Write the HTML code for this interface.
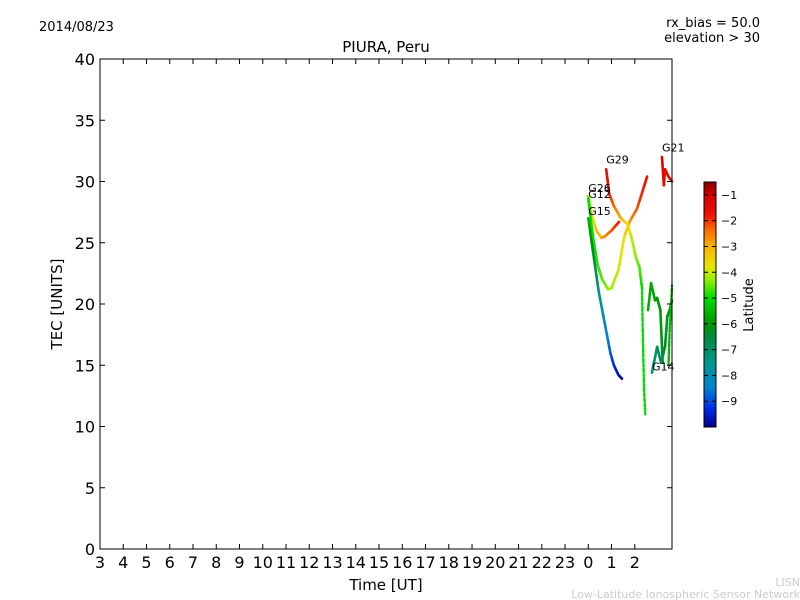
<!DOCTYPE html>
<html><head><meta charset="utf-8"><style>
body{margin:0;background:#fff;width:800px;height:600px;overflow:hidden}
svg{display:block;font-family:"DejaVu Sans","Liberation Sans",sans-serif}
</style></head><body>
<svg id="c" width="800" height="600">
<text x="39" y="31" font-size="13">2014/08/23</text>
<text x="760" y="27" font-size="13" text-anchor="end">rx_bias = 50.0</text>
<text x="760" y="42" font-size="13" text-anchor="end">elevation &gt; 30</text>
<text x="386" y="52" font-size="15" text-anchor="middle">PIURA, Peru</text>
<text x="386" y="590" font-size="15" text-anchor="middle">Time [UT]</text>
<text x="62" y="304" font-size="15" text-anchor="middle" transform="rotate(-90 62 304)">TEC [UNITS]</text>
<text x="800" y="586" font-size="11" fill="#ccc" text-anchor="end">LISN</text>
<text x="800" y="598" font-size="11" fill="#ccc" text-anchor="end">Low-Latitude Ionospheric Sensor Network</text>
<g id="plot"></g>
<g id="cb"></g>
</svg>
<script>
const xTickLabels=["3","4","5","6","7","8","9","10","11","12","13","14","15","16","17","18","19","20","21","22","23","0","1","2"];
const yTicks=[0,5,10,15,20,25,30,35,40];
const cbTicks=[-1,-2,-3,-4,-5,-6,-7,-8,-9];
const seriesNames=["G26","G12","G29","G29b","Gx","G14","Gy","G21","G15"];
const seriesDotted=[false,false,false,true,false,false,true,false,false];
// [time(h), TEC, latitude]
const G26=[[24.0,28.8,-4.3],[24.15,27.3,-3.8],[24.35,26,-3.3],[24.56,25.4,-3.0],[24.7,25.5,-2.7],[25.0,26,-2.2],[25.32,26.7,-1.8]];
const G12=[[24.0,28.6,-5.0],[24.2,25.5,-5.0],[24.4,23.2,-4.8],[24.6,22,-4.6],[24.85,21.2,-4.3],[25.0,21.3,-4.2],[25.3,22.8,-4.0],[25.55,25.5,-3.7],[25.8,26.8,-2.7],[26.1,27.8,-2.2],[26.3,29,-1.9],[26.53,30.4,-1.7]];
const G29=[[24.77,31,-1.5],[24.9,29,-1.8],[25.1,28,-2.3],[25.4,27,-2.9],[25.7,26.5,-3.6],[25.85,25.5,-4.0],[26.05,23.8,-4.3],[26.2,23,-4.6],[26.31,21.3,-5.0]];
const G29b=[[26.31,21.3,-5.0],[26.35,17,-5.0],[26.4,13,-5.0],[26.45,11,-5.0]];
const Gx=[[26.57,19.5,-5.6],[26.7,21.7,-5.7],[26.87,20.3,-5.8],[26.96,20.5,-5.9],[27.1,19.5,-6.0],[27.2,15.2,-6.1]];
const G14=[[26.74,14.4,-7.3],[26.96,16.5,-7.0],[27.13,15.2,-6.8],[27.3,16.5,-6.5],[27.4,19,-6.2],[27.5,19.5,-6.0],[27.6,20.3,-5.8]];
const Gy=[[27.45,15,-5.6],[27.5,18,-5.5],[27.55,19.5,-5.4],[27.6,21.5,-5.3]];
const G21=[[27.17,32,-1.3],[27.25,29.7,-1.4],[27.3,31,-1.5],[27.45,30.4,-1.6],[27.6,30,-1.7]];
const G15=[[24.0,27,-5.5],[24.2,24.3,-6.3],[24.45,21,-7.3],[24.7,18.5,-8.2],[24.95,16,-8.8],[25.1,15,-9.3],[25.3,14.2,-9.6],[25.45,13.9,-9.8]];
const seriesData=[G26,G12,G29,G29b,Gx,G14,Gy,G21,G15];
const labelNames=["G29","G21","G26","G12","G15","G14"];
const labelPos=[[24.77,31.3],[27.17,32.3],[24.0,29.0],[24.0,28.5],[24.0,27.1],[26.74,14.4]];
const cmapLat=[-10,-9.3,-8.5,-7.5,-6.5,-6,-5,-4.3,-3.8,-3,-2.3,-1.8,-1,-0.5];
const cmapRGB=[[0,0,140],[0,40,230],[0,130,210],[0,150,140],[0,140,60],[0,150,0],[0,220,0],[140,240,0],[230,230,0],[250,180,0],[250,100,0],[240,20,0],[210,0,0],[130,0,0]];

const X0=100,X1=672,Y0=59,Y1=549,TMIN=3,TMAX=27.6,VMIN=0,VMAX=40;
const sx=t=>X0+(t-TMIN)/(TMAX-TMIN)*(X1-X0);
const sy=v=>Y1-(v-VMIN)/(VMAX-VMIN)*(Y1-Y0);
const LMIN=-10,LMAX=-0.5,CB0=182,CB1=427;
const sl=l=>CB1-(l-LMIN)/(LMAX-LMIN)*(CB1-CB0);
function latColor(l){
  l=Math.max(LMIN,Math.min(LMAX,l));
  for(let i=0;i<cmapLat.length-1;i++){
    if(l<=cmapLat[i+1]){const f=(l-cmapLat[i])/(cmapLat[i+1]-cmapLat[i]);const a=cmapRGB[i],b=cmapRGB[i+1];
      return `rgb(${Math.round(a[0]+(b[0]-a[0])*f)},${Math.round(a[1]+(b[1]-a[1])*f)},${Math.round(a[2]+(b[2]-a[2])*f)})`;}
  }
  return 'rgb(130,0,0)';
}
const NS="http://www.w3.org/2000/svg";
function mk(tag,attrs,parent){const e=document.createElementNS(NS,tag);for(const k in attrs)e.setAttribute(k,attrs[k]);parent.appendChild(e);return e;}
const plot=document.getElementById('plot'),cb=document.getElementById('cb');

seriesData.forEach((pts,si)=>{
  const g=mk('g',{},plot);
  
  
  for(let i=0;i<pts.length-1;i++){
    const a=pts[i],b=pts[i+1];const n=5;
    for(let k=0;k<n;k++){
      const f0=k/n,f1=(k+1)/n,fm=(k+.5)/n;
      const l=mk('line',{x1:sx(a[0]+(b[0]-a[0])*f0),y1:sy(a[1]+(b[1]-a[1])*f0),x2:sx(a[0]+(b[0]-a[0])*f1),y2:sy(a[1]+(b[1]-a[1])*f1),
        stroke:latColor(a[2]+(b[2]-a[2])*fm),'stroke-width':seriesDotted[si]?2.4:2.6,'stroke-linecap':'round'},g);
      if(seriesDotted[si])l.setAttribute('stroke-dasharray','2 2');
      
      
    }
  }
});
labelNames.forEach((nm,i)=>{
  const t=mk('text',{x:sx(labelPos[i][0]),y:sy(labelPos[i][1])-2,'font-size':11},plot);
  t.textContent=nm;
  
  
});
const frame=mk('rect',{x:X0,y:Y0,width:X1-X0,height:Y1-Y0,fill:'none',stroke:'#000','stroke-width':1},plot);


yTicks.forEach(v=>{
  const y=sy(v);
  mk('line',{x1:X0,y1:y,x2:X0+5,y2:y,stroke:'#000'},plot);
  mk('line',{x1:X1,y1:y,x2:X1-5,y2:y,stroke:'#000'},plot);
  const t=mk('text',{x:95,y:y+6,'font-size':16,'text-anchor':'end'},plot);
  t.textContent=v;
  
  
});
xTickLabels.forEach((s,i)=>{
  const x=sx(TMIN+i);
  mk('line',{x1:x,y1:Y1,x2:x,y2:Y1-5,stroke:'#000'},plot);
  mk('line',{x1:x,y1:Y0,x2:x,y2:Y0+5,stroke:'#000'},plot);
  const t=mk('text',{x:x,y:568,'font-size':16,'text-anchor':'middle'},plot);
  t.textContent=s;
  
  
});
const defs=mk('defs',{},cb);
const grad=mk('linearGradient',{id:'cmapg',x1:0,y1:1,x2:0,y2:0},defs);
cmapLat.forEach(l=>mk('stop',{offset:(l-LMIN)/(LMAX-LMIN),'stop-color':latColor(l)},grad));
const bar=mk('rect',{x:704,y:CB0,width:12,height:CB1-CB0,fill:'url(#cmapg)',stroke:'#000'},cb);


cbTicks.forEach(v=>{
  const y=sl(v);
  mk('line',{x1:704,y1:y,x2:708,y2:y,stroke:'#000'},cb);
  mk('line',{x1:716,y1:y,x2:712,y2:y,stroke:'#000'},cb);
  const t=mk('text',{x:721,y:y+4,'font-size':11},cb);
  t.textContent='\u2212'+Math.abs(v);
  
  
});
const lt=mk('text',{x:753,y:305,'font-size':13,'text-anchor':'middle',transform:'rotate(-90 753 305)'},cb);
lt.textContent='Latitude';


</script>
</body></html>
